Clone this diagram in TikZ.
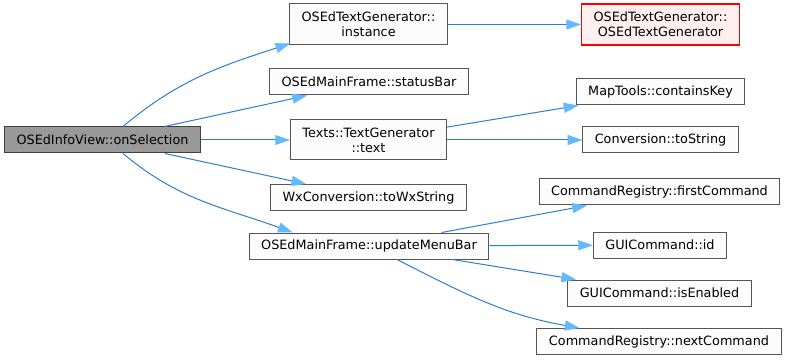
\documentclass[tikz,border=0pt]{standalone}
\usepackage{fontspec}
\setmainfont{DejaVu Sans}
\usetikzlibrary{arrows.meta,calc,positioning}

\definecolor{edgeblue}{HTML}{2F7DCF}
\definecolor{tipblue}{HTML}{63B8FF}
\definecolor{boxline}{HTML}{555555}
\definecolor{boxfill}{HTML}{FBFCFB}
\definecolor{rootfill}{HTML}{999999}
\definecolor{cutline}{HTML}{FF0000}
\definecolor{cutfill}{HTML}{FFF0F0}

\tikzset{
  fn/.style={draw=boxline, fill=boxfill, line width=0.75pt, inner xsep=9pt,
    inner ysep=3pt, minimum height=19.5pt, align=center,
    font=\fontsize{9.6pt}{11.3pt}\selectfont},
  root/.style={fn, fill=rootfill, draw=black!75},
  cut/.style={fn, draw=cutline, fill=cutfill, line width=1.1pt},
  call/.style={draw=edgeblue, line width=0.75pt,
    -{Triangle[length=11pt,width=7.5pt,color=tipblue]}}
}

\begin{document}
\begin{tikzpicture}[x=0.75pt, y=0.75pt]
  \fill[white] (0,0) rectangle (789,361);

  % caller
  \node[root] (onsel) at (102.5,221) {OSEdInfoView::onSelection};

  % first level
  \node[fn, minimum height=30.75pt] (inst) at (368.5,336.5) {OSEdTextGenerator::\\instance};
  \node[fn] (status) at (369,279) {OSEdMainFrame::statusBar};
  \node[fn, minimum height=30pt] (text) at (368.5,221) {Texts::TextGenerator\\::text};
  \node[fn] (wx) at (368.5,163.5) {WxConversion::toWxString};
  \node[fn] (upd) at (369,115) {OSEdMainFrame::updateMenuBar};

  % second level
  \node[cut, minimum height=30.75pt] (ctor) at (660.5,336.5) {OSEdTextGenerator::\\OSEdTextGenerator};
  \node[fn] (contains) at (660.5,269) {MapTools::containsKey};
  \node[fn] (tostr) at (660.5,221) {Conversion::toString};
  \node[fn] (first) at (659.5,169) {CommandRegistry::firstCommand};
  \node[fn] (id) at (660,116) {GUICommand::id};
  \node[fn] (enabled) at (659.5,68) {GUICommand::isEnabled};
  \node[fn] (next) at (659,19.5) {CommandRegistry::nextCommand};

  % straight calls
  \foreach \a/\b in {onsel/status, onsel/text, onsel/wx, inst/ctor, text/contains,
                     text/tostr, upd/first, upd/id, upd/enabled}
    \draw[call] (\a) -- (\b);

  % bent calls
  \draw[call] ($(onsel.north)+(20.5,0)$) to[out=40, in=198] ($(inst.south west)+(1,2)$);
  \draw[call] ($(onsel.south)+(20.5,0)$) to[out=-40, in=160] ($(upd.north west)+(44,0)$);
  \draw[call] ($(upd.south)+(28,0)$) to[out=-27, in=170] ($(next.north west)+(43,0)$);
\end{tikzpicture}
\end{document}
